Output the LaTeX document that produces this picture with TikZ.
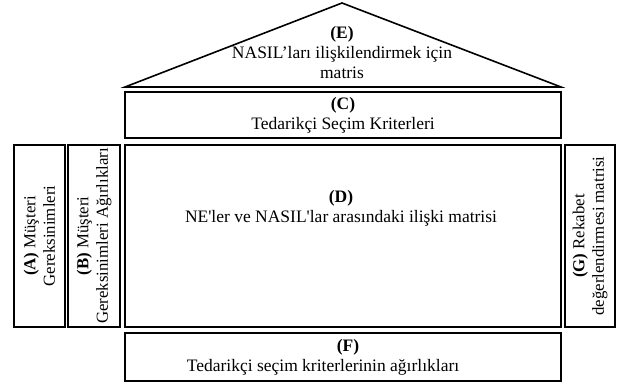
\documentclass[tikz,border=0pt]{standalone}
\usepackage{fontspec}
\setmainfont{Liberation Serif}
\usetikzlibrary{positioning}
\newcommand{\hqfont}{\fontsize{17.5}{20}\selectfont}
\newcommand{\hqsidefont}{\fontsize{16.8}{19.5}\selectfont}
\tikzset{
  hqbox/.style={draw=black, line width=2.8pt, minimum width=436pt, inner sep=0pt, align=center, font=\hqfont},
  sidebox/.style={draw=black, line width=2.8pt, rotate=90, minimum width=182pt, inner sep=0pt, align=center, font=\hqsidefont},
  hqtext/.style={align=center, inner sep=0pt, font=\hqfont},
  roofline/.style={draw=black, line width=1.6pt, line join=miter}
}

\begin{document}
\begin{tikzpicture}[x=1pt, y=-1pt]
\useasboundingbox (0,0) rectangle (622,385);
% roof
\coordinate (roofL) at (125,87);
\coordinate (roofT) at (342,3);
\coordinate (roofR) at (561,87);
\draw[roofline] (roofL) -- (roofT) -- (roofR) -- cycle;
\node[hqtext] (roof) at (342,53) {\textbf{(E)}\\NASIL’ları ilişkilendirmek için\\matris};
% criteria, relations, weights
\node[hqbox, minimum height=46pt] (crit) at (343,115) {\textbf{(C)}\\Tedarikçi Seçim Kriterleri};
\node[hqbox, minimum height=182pt] (rel) at (343,236) {};
\node[hqtext] (reltext) at (341,208) {\textbf{(D)}\\NE\textquotesingle ler ve NASIL\textquotesingle lar arasındaki ilişki matrisi};
\node[hqbox, minimum height=48pt] (critw) at (343,357) {};
\node[hqtext] (critwtext) at (323,357) {\hspace*{50pt}\textbf{(F)}\\Tedarikçi seçim kriterlerinin ağırlıkları};
% side columns
\node[sidebox, minimum height=51pt] (req) at (39.5,236) {\textbf{(A)} Müşteri\\Gereksinimleri};
\node[sidebox, minimum height=52pt] (reqw) at (94,236) {\textbf{(B)} Müşteri\\Gereksinimleri Ağırlıkları};
\node[sidebox, minimum height=50pt] (comp) at (590,236) {\textbf{(G)} Rekabet\\değerlendirmesi matrisi};
\end{tikzpicture}
\end{document}
